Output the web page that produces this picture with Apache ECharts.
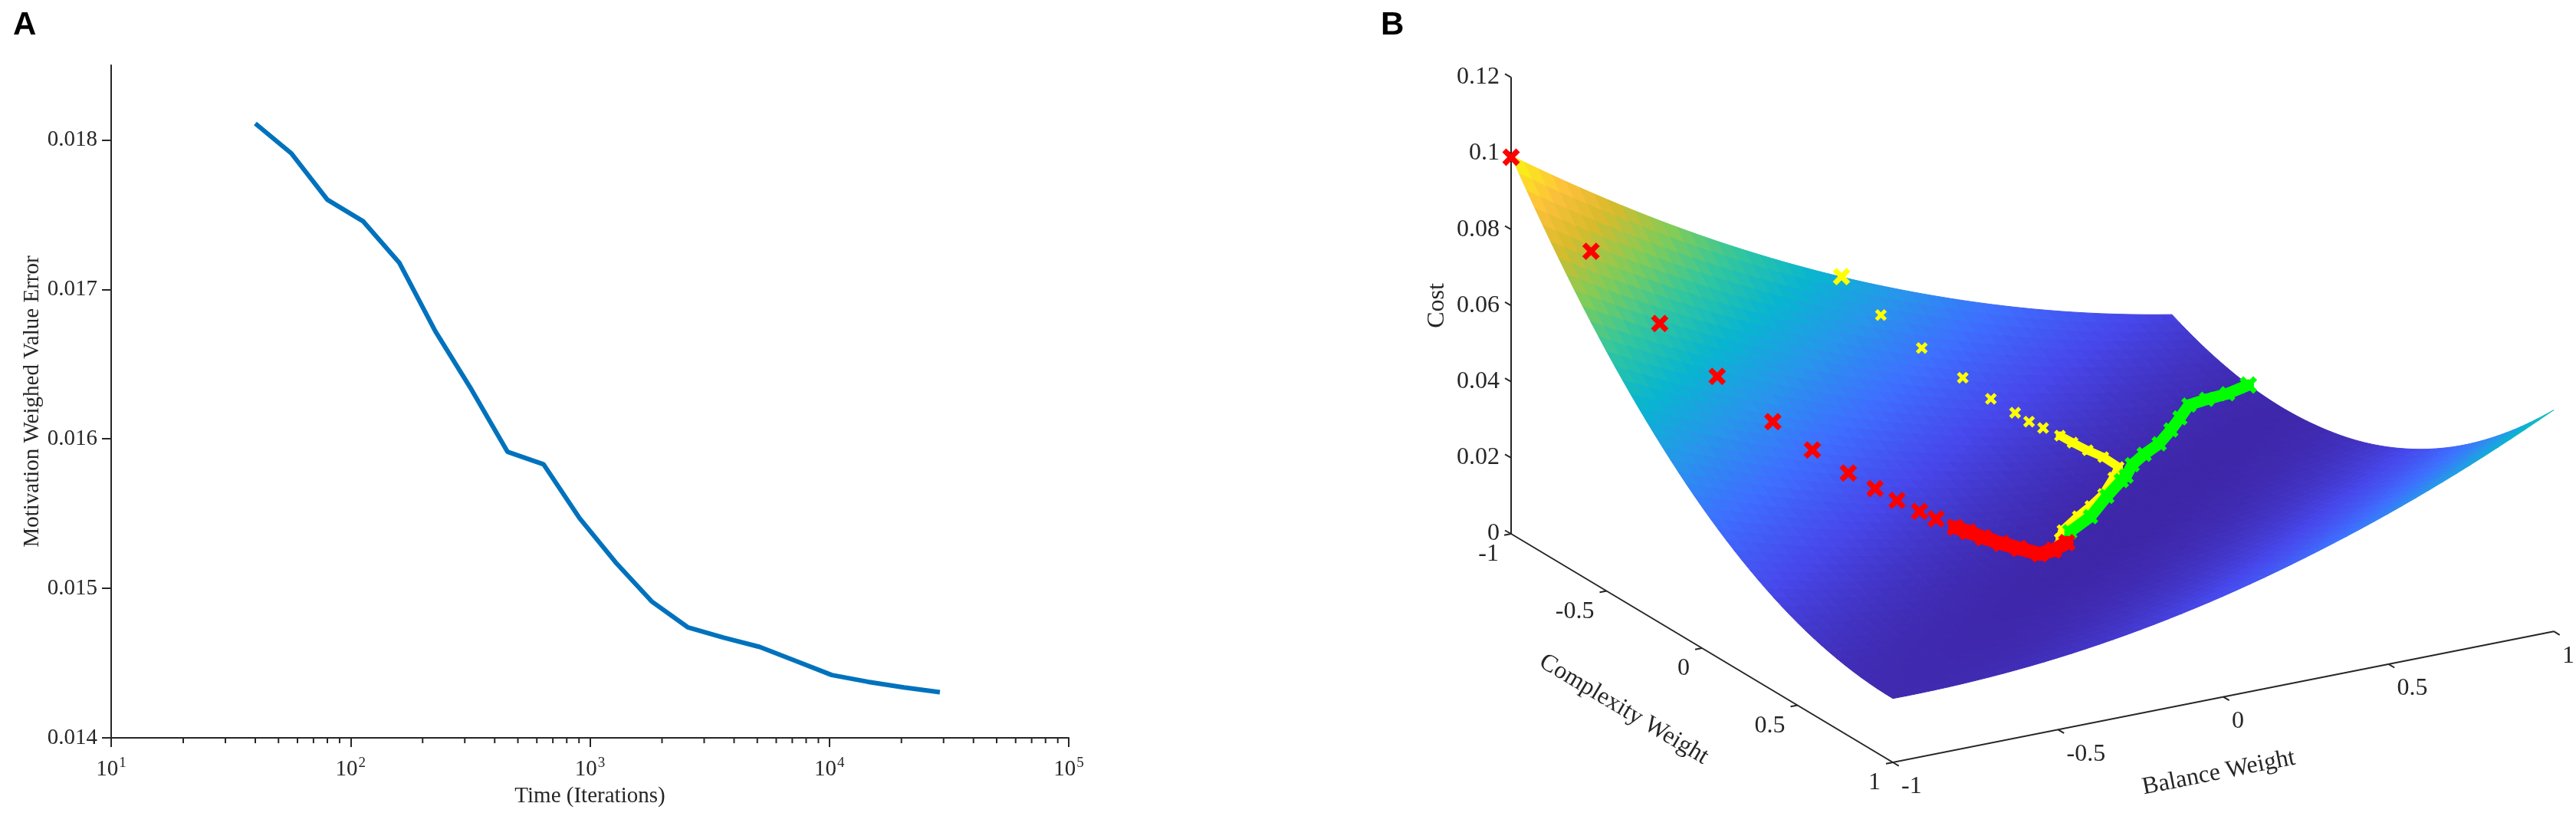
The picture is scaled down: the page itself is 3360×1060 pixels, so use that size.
<!DOCTYPE html>
<html><head><meta charset="utf-8">
<script src="https://cdn.jsdelivr.net/npm/echarts@6/dist/echarts.min.js"></script>
<style>html,body{margin:0;padding:0;background:#fff}#chart{width:3360px;height:1060px}</style>
</head><body><div id="chart"></div>
<script>
// ---------------- Panel A data ----------------
const iterations = [40, 56.6, 80, 113, 160, 226, 320, 453, 640, 905, 1280, 1810, 2560, 3620, 5120, 7240, 10240, 14480, 20480, 28960];
const weightedError = [0.01811, 0.01791, 0.01760, 0.017455, 0.017177, 0.01672, 0.01633, 0.015913, 0.01583, 0.015469, 0.015174, 0.014913, 0.01474, 0.01467, 0.014608, 0.014514, 0.01442, 0.014375, 0.014337, 0.014305];
const xMinorTickValues = [20,30,40,50,60,70,80,90,200,300,400,500,600,700,800,900,2000,3000,4000,5000,6000,7000,8000,9000,20000,30000,40000,50000,60000,70000,80000,90000];
const yTickValues = [0.014, 0.015, 0.016, 0.017, 0.018];

// ---------------- Panel B data ----------------
const balanceGrid = [-1, -0.75, -0.5, -0.25, 0, 0.25, 0.5, 0.75, 1];
const complexityGrid = [-1, -0.75, -0.5, -0.25, 0, 0.25, 0.5, 0.75, 1];
// rows: complexity weight, columns: balance weight
const costSurface = [
  [0.0994,0.0851,0.0721,0.0605,0.0503,0.0415,0.0340,0.0279,0.0232],
  [0.0799,0.0674,0.0562,0.0465,0.0381,0.0311,0.0255,0.0212,0.0184],
  [0.0630,0.0523,0.0431,0.0351,0.0286,0.0234,0.0197,0.0172,0.0162],
  [0.0488,0.0399,0.0325,0.0264,0.0217,0.0184,0.0164,0.0159,0.0167],
  [0.0371,0.0301,0.0245,0.0203,0.0174,0.0159,0.0158,0.0171,0.0197],
  [0.0281,0.0229,0.0191,0.0167,0.0157,0.0160,0.0178,0.0209,0.0254],
  [0.0217,0.0184,0.0165,0.0159,0.0167,0.0189,0.0225,0.0274,0.0337],
  [0.0180,0.0165,0.0164,0.0177,0.0203,0.0243,0.0297,0.0365,0.0447],
  [0.0168,0.0172,0.0189,0.0220,0.0265,0.0324,0.0396,0.0482,0.0582]
];
const costTicks = [0, 0.02, 0.04, 0.06, 0.08, 0.1, 0.12];
const complexityTicks = [-1, -0.5, 0, 0.5, 1];
const balanceTicks = [-1, -0.5, 0, 0.5, 1];

const redBalance    = [-1, -0.865, -0.749, -0.652, -0.558, -0.491, -0.43, -0.385, -0.348, -0.31, -0.282, -0.25, -0.228, -0.202, -0.172, -0.142, -0.107, -0.06, 0];
const redComplexity = [-1, -0.815, -0.656, -0.523, -0.394, -0.303, -0.22, -0.158, -0.107, -0.055, -0.017, 0.028, 0.057, 0.093, 0.134, 0.175, 0.223, 0.214, 0.18];
const redCost       = [0.0990, 0.0775, 0.0613, 0.0497, 0.0401, 0.0342, 0.0296, 0.0266, 0.0244, 0.0224, 0.0211, 0.0197, 0.0190, 0.0181, 0.0173, 0.0167, 0.0161, 0.0160, 0.0159];

const yellowBalance    = [0, 0.055, 0.118, 0.182, 0.218, 0.256, 0.274, 0.298, 0.326, 0.341, 0.361, 0.382, 0.392, 0.343, 0.26, 0.187, 0.12, 0.033, -0.004];
const yellowComplexity = [-1, -0.889, -0.784, -0.68, -0.595, -0.534, -0.492, -0.46, -0.42, -0.38, -0.335, -0.29, -0.227, -0.17, -0.08, -0.02, 0.03, 0.1, 0.15];
const yellowCost       = [0.0504, 0.0427, 0.0361, 0.0303, 0.0267, 0.0242, 0.0228, 0.0217, 0.0204, 0.0195, 0.0185, 0.0177, 0.0168, 0.0166, 0.0164, 0.0163, 0.0163, 0.0162, 0.0161];

const greenBalance    = [1.0, 0.92, 0.845, 0.774, 0.712, 0.65, 0.574, 0.5, 0.435, 0.376, 0.35, 0.26, 0.147, 0.044];
const greenComplexity = [-0.6, -0.57, -0.55, -0.52, -0.46, -0.4, -0.33, -0.28, -0.23, -0.16, -0.14, -0.06, 0.05, 0.12];
const greenCost       = [0.0167, 0.0167, 0.0171, 0.0177, 0.0172, 0.0169, 0.0167, 0.0167, 0.0166, 0.0167, 0.0166, 0.0164, 0.0163, 0.0162];

// ---------------- styling / view ----------------
const FONT = '"Liberation Serif", "Times New Roman", serif';
const INK = '#262626';
// parula-like colormap stops [position, colour]
const PARULA = [[0,'#3E26A8'],[0.111,'#4747EB'],[0.222,'#3E6FFF'],[0.333,'#2796EB'],[0.444,'#08B5D0'],
                [0.556,'#31C69F'],[0.667,'#80CC59'],[0.778,'#D8BB2B'],[0.873,'#FDC03C'],[1,'#F9FB0E']];
// orthographic view of the 3-D box (page units of the overlay grid)
const VIEW = {ox: 1971, oy: 696, bx: 431, by: -85.4, cx: 249, cy: 149, zs: 4960};
const B0 = balanceTicks[0], C0 = complexityTicks[0];
function project(b, c, z) {
  return [VIEW.ox + (b - B0) * VIEW.bx + (c - C0) * VIEW.cx,
          VIEW.oy + (b - B0) * VIEW.by + (c - C0) * VIEW.cy - z * VIEW.zs];
}
function hexToRgb(h){ return [parseInt(h.slice(1,3),16), parseInt(h.slice(3,5),16), parseInt(h.slice(5,7),16)]; }
const PARULA_RGB = PARULA.map(s => [s[0], hexToRgb(s[1])]);
function parula(t){
  t = Math.max(0, Math.min(1, t));
  let i = 0;
  while (i < PARULA_RGB.length - 2 && t > PARULA_RGB[i+1][0]) i++;
  const [t0, a] = PARULA_RGB[i], [t1, b] = PARULA_RGB[i+1];
  const r = (t - t0) / (t1 - t0);
  return 'rgb(' + [0,1,2].map(k => Math.round(a[k] + (b[k]-a[k]) * r)).join(',') + ')';
}
const allCost = costSurface.flat();
const zMin = Math.min(...allCost), zMax = Math.max(...allCost);

// padded copy of the surface grid (quadratic extension at the borders) for smooth cubic rendering
const nB = balanceGrid.length, nC = complexityGrid.length;
const padded = [];
for (let ci = -1; ci <= nC; ci++) {
  const row = [];
  for (let bi = -1; bi <= nB; bi++) {
    const get = (c, b) => costSurface[c][b];
    const ext = (c, b) => {
      if (b < 0) return 3*get(c,0) - 3*get(c,1) + get(c,2);
      if (b >= nB) return 3*get(c,nB-1) - 3*get(c,nB-2) + get(c,nB-3);
      return get(c, b);
    };
    if (ci < 0) row.push(3*ext(0,bi) - 3*ext(1,bi) + ext(2,bi));
    else if (ci >= nC) row.push(3*ext(nC-1,bi) - 3*ext(nC-2,bi) + ext(nC-3,bi));
    else row.push(ext(ci, bi));
  }
  padded.push(row);
}
function catmull(p0, p1, p2, p3, t) {
  return 0.5 * (2*p1 + (-p0 + p2)*t + (2*p0 - 5*p1 + 4*p2 - p3)*t*t + (-p0 + 3*p1 - 3*p2 + p3)*t*t*t);
}
function surfaceAt(bi, ci, s, t) {
  const r = [];
  for (let k = 0; k < 4; k++) {
    const row = padded[ci + k];
    r.push(catmull(row[bi], row[bi+1], row[bi+2], row[bi+3], s));
  }
  return catmull(r[0], r[1], r[2], r[3], t);
}

// surface cells (far to near)
const cells = [];
for (let ci = 0; ci < nC - 1; ci++) for (let bi = 0; bi < nB - 1; bi++) cells.push([bi, ci]);
const depth = p => VIEW.by*(balanceGrid[p[0]] + balanceGrid[p[0]+1]) + VIEW.cy*(complexityGrid[p[1]] + complexityGrid[p[1]+1]);
cells.sort((p, q) => depth(p) - depth(q));

const SUB = 6;
function renderCell(params, api) {
  const bi = api.value(0), ci = api.value(1);
  const b0 = balanceGrid[bi], b1 = balanceGrid[bi+1], c0 = complexityGrid[ci], c1 = complexityGrid[ci+1];
  const zg = [], pg = [];
  for (let i = 0; i <= SUB; i++) {
    zg.push([]); pg.push([]);
    for (let j = 0; j <= SUB; j++) {
      const s = i / SUB, t = j / SUB;
      const z = surfaceAt(bi, ci, s, t);
      zg[i].push(z);
      pg[i].push(api.coord(project(b0 + (b1-b0)*s, c0 + (c1-c0)*t, z)));
    }
  }
  const children = [];
  for (let i = 0; i < SUB; i++) for (let j = 0; j < SUB; j++) {
    const zm = (zg[i][j] + zg[i+1][j] + zg[i+1][j+1] + zg[i][j+1]) / 4;
    const col = parula((zm - zMin) / (zMax - zMin));
    children.push({type: 'polygon', shape: {points: [pg[i][j], pg[i+1][j], pg[i+1][j+1], pg[i][j+1]]},
      style: {fill: col, stroke: col, lineWidth: 1}});
  }
  return {type: 'group', children};
}

function triples(B, C, Z) { return B.map((b, i) => [b, C[i], Z[i]]); }
function segments(B, C, Z, from) {
  const out = [];
  for (let i = Math.max(1, from); i < B.length; i++) out.push([B[i-1], C[i-1], Z[i-1], B[i], C[i], Z[i]]);
  return out;
}
function segRenderer(color, width) {
  return function (params, api) {
    const p = api.coord(project(api.value(0), api.value(1), api.value(2)));
    const q = api.coord(project(api.value(3), api.value(4), api.value(5)));
    return {type: 'line', shape: {x1: p[0], y1: p[1], x2: q[0], y2: q[1]}, style: {stroke: color, lineWidth: width, lineCap: 'round'}};
  };
}
function crossRenderer(color, half, width, firstHalf) {
  return function (params, api) {
    const p = api.coord(project(api.value(0), api.value(1), api.value(2)));
    const h = (params.dataIndex === 0 && firstHalf) ? firstHalf : half;
    const w = (params.dataIndex === 0 && firstHalf) ? 7 : width;
    return {type: 'group', children: [
      {type: 'line', shape: {x1: p[0]-h, y1: p[1]-h, x2: p[0]+h, y2: p[1]+h}, style: {stroke: color, lineWidth: w}},
      {type: 'line', shape: {x1: p[0]-h, y1: p[1]+h, x2: p[0]+h, y2: p[1]-h}, style: {stroke: color, lineWidth: w}}
    ]};
  };
}
const LABEL_FONT_B = '32px ' + FONT;
function axisTickRenderer(kind) {
  return function (params, api) {
    const v = api.value(0);
    let p, tickEnd, lx, ly, align;
    if (kind === 'cost') {
      p = api.coord(project(B0, C0, v));
      tickEnd = [p[0] - 8, p[1] - 4.5];
      lx = p[0] - 15; ly = p[1]; align = 'right';
    } else if (kind === 'complexity') {
      p = api.coord(project(B0, v, 0));
      tickEnd = [p[0] - 9, p[1] + 1.8];
      lx = p[0] - 16; ly = p[1] + 27; align = 'right';
    } else {
      p = api.coord(project(v, complexityTicks[complexityTicks.length-1], 0));
      tickEnd = [p[0] + 7.7, p[1] + 4.6];
      lx = p[0] + 11; ly = p[1] + 32; align = 'left';
    }
    return {type: 'group', children: [
      {type: 'line', shape: {x1: p[0], y1: p[1], x2: tickEnd[0], y2: tickEnd[1]}, style: {stroke: INK, lineWidth: 2}},
      {type: 'text', x: lx, y: ly, style: {text: String(v), fill: INK, font: LABEL_FONT_B, align: align, verticalAlign: 'middle'}}
    ]};
  };
}
function boxAxesRenderer(params, api) {
  const cTop = costTicks[costTicks.length-1];
  const cEnd = complexityTicks[complexityTicks.length-1], bEnd = balanceTicks[balanceTicks.length-1];
  const a = api.coord(project(B0, C0, 0)), t = api.coord(project(B0, C0, cTop));
  const f = api.coord(project(B0, cEnd, 0)), r = api.coord(project(bEnd, cEnd, 0));
  const st = {stroke: INK, lineWidth: 2, fill: null};
  return {type: 'group', children: [
    {type: 'line', shape: {x1: a[0], y1: a[1], x2: t[0], y2: t[1]}, style: st},
    {type: 'polyline', shape: {points: [a, f, r]}, style: st}
  ]};
}

const cTitle = project(B0, 0, 0), bTitle = project(0, complexityTicks[complexityTicks.length-1], 0);
const costMid = project(B0, C0, costTicks[costTicks.length-1] / 2);

const chart = echarts.init(document.getElementById('chart'), null, {renderer: 'canvas'});
const AXIS_FONT_A = 29;
chart.setOption({
  animation: false,
  backgroundColor: '#ffffff',
  grid: [
    {left: 145, top: 85, width: 1249, height: 877},
    {left: 0, top: 0, width: 3360, height: 1060}
  ],
  xAxis: [
    {gridIndex: 0, type: 'log', logBase: 10, min: 10, max: 100000,
     axisLine: {lineStyle: {color: INK, width: 2}},
     axisTick: {length: 12, lineStyle: {color: INK, width: 2}},
     splitLine: {show: false}, minorTick: {show: false},
     axisLabel: {margin: 24, color: INK,
       formatter: v => '{b|10}{s|' + Math.round(Math.log10(v)) + '}',
       rich: {b: {fontFamily: FONT, fontSize: AXIS_FONT_A, color: INK, verticalAlign: 'bottom'},
              s: {fontFamily: FONT, fontSize: 19, color: INK, verticalAlign: 'bottom', padding: [0, 0, 13, 1]}}},
     name: 'Time (Iterations)', nameLocation: 'middle', nameGap: 62,
     nameTextStyle: {fontFamily: FONT, fontSize: AXIS_FONT_A, color: INK}},
    {gridIndex: 1, type: 'value', min: 0, max: 3360, show: false}
  ],
  yAxis: [
    {gridIndex: 0, type: 'value', min: 0.014, max: 0.0185,
     axisLine: {show: true, lineStyle: {color: INK, width: 2}},
     axisTick: {show: true, length: 12, customValues: yTickValues, lineStyle: {color: INK, width: 2}},
     splitLine: {show: false},
     axisLabel: {customValues: yTickValues, margin: 18, fontFamily: FONT, fontSize: AXIS_FONT_A, color: INK,
       formatter: v => yTickValues.some(t => Math.abs(t - v) < 1e-9) ? v.toFixed(3) : ''},
     name: 'Motivation Weighed Value Error', nameLocation: 'middle', nameRotate: 90, nameGap: 88,
     nameTextStyle: {fontFamily: FONT, fontSize: AXIS_FONT_A, color: INK}},
    {gridIndex: 1, type: 'value', min: 0, max: 1060, inverse: true, show: false}
  ],
  series: [
    {type: 'line', name: 'Motivation weighed value error', xAxisIndex: 0, yAxisIndex: 0,
     data: iterations.map((x, i) => [x, weightedError[i]]), showSymbol: false, symbol: 'none',
     lineStyle: {color: '#0072BD', width: 6}, z: 3},
    {type: 'custom', name: 'minor ticks', xAxisIndex: 0, yAxisIndex: 0, clip: false, silent: true,
     data: xMinorTickValues.map(v => [v, yTickValues[0]]),
     renderItem: (params, api) => {
       const p = api.coord([api.value(0), api.value(1)]);
       return {type: 'line', shape: {x1: p[0], y1: p[1], x2: p[0], y2: p[1] + 7}, style: {stroke: INK, lineWidth: 2}};
     }},
    // ---- panel B ----
    {type: 'custom', name: 'box axes', xAxisIndex: 1, yAxisIndex: 1, clip: false, silent: true,
     data: [[0, 0]], renderItem: boxAxesRenderer, z: 1},
    {type: 'custom', name: 'cost ticks', xAxisIndex: 1, yAxisIndex: 1, clip: false, silent: true,
     data: costTicks.map(v => [v]), renderItem: axisTickRenderer('cost'), z: 1},
    {type: 'custom', name: 'complexity ticks', xAxisIndex: 1, yAxisIndex: 1, clip: false, silent: true,
     data: complexityTicks.map(v => [v]), renderItem: axisTickRenderer('complexity'), z: 1},
    {type: 'custom', name: 'balance ticks', xAxisIndex: 1, yAxisIndex: 1, clip: false, silent: true,
     data: balanceTicks.map(v => [v]), renderItem: axisTickRenderer('balance'), z: 1},
    {type: 'custom', name: 'cost surface', xAxisIndex: 1, yAxisIndex: 1, clip: false, silent: true,
     data: cells, renderItem: renderCell, z: 2},
    {type: 'custom', name: 'yellow path', xAxisIndex: 1, yAxisIndex: 1, clip: false, silent: true,
     data: segments(yellowBalance, yellowComplexity, yellowCost, 9), renderItem: segRenderer('#FFFF00', 11), z: 3},
    {type: 'custom', name: 'yellow', xAxisIndex: 1, yAxisIndex: 1, clip: false, silent: true,
     data: triples(yellowBalance, yellowComplexity, yellowCost), renderItem: crossRenderer('#FFFF00', 6, 5, 9), z: 3},
    {type: 'custom', name: 'green path', xAxisIndex: 1, yAxisIndex: 1, clip: false, silent: true,
     data: segments(greenBalance, greenComplexity, greenCost, 1), renderItem: segRenderer('#00FF00', 15), z: 4},
    {type: 'custom', name: 'green', xAxisIndex: 1, yAxisIndex: 1, clip: false, silent: true,
     data: triples(greenBalance, greenComplexity, greenCost), renderItem: crossRenderer('#00FF00', 8, 6, 9), z: 4},
    {type: 'custom', name: 'red path', xAxisIndex: 1, yAxisIndex: 1, clip: false, silent: true,
     data: segments(redBalance, redComplexity, redCost, 12), renderItem: segRenderer('#FF0000', 18), z: 5},
    {type: 'custom', name: 'red', xAxisIndex: 1, yAxisIndex: 1, clip: false, silent: true,
     data: triples(redBalance, redComplexity, redCost), renderItem: crossRenderer('#FF0000', 9, 7, 0), z: 5}
  ],
  graphic: [
    {type: 'text', left: 17, top: 12, style: {text: 'A', font: 'bold 42px "Liberation Sans", Arial, sans-serif', fill: '#000'}},
    {type: 'text', left: 1801, top: 12, style: {text: 'B', font: 'bold 42px "Liberation Sans", Arial, sans-serif', fill: '#000'}},
    {type: 'text', x: costMid[0] - 96, y: costMid[1], rotation: Math.PI / 2,
     style: {text: 'Cost', font: LABEL_FONT_B, fill: INK, align: 'center', verticalAlign: 'middle'}},
    {type: 'text', x: cTitle[0] - 102, y: cTitle[1] + 80, rotation: -Math.atan2(VIEW.cy, VIEW.cx),
     style: {text: 'Complexity Weight', font: LABEL_FONT_B, fill: INK, align: 'center', verticalAlign: 'middle'}},
    {type: 'text', x: bTitle[0] - 6, y: bTitle[1] + 99, rotation: Math.atan2(-VIEW.by, VIEW.bx),
     style: {text: 'Balance Weight', font: LABEL_FONT_B, fill: INK, align: 'center', verticalAlign: 'middle'}}
  ]
});
</script>
</body></html>
